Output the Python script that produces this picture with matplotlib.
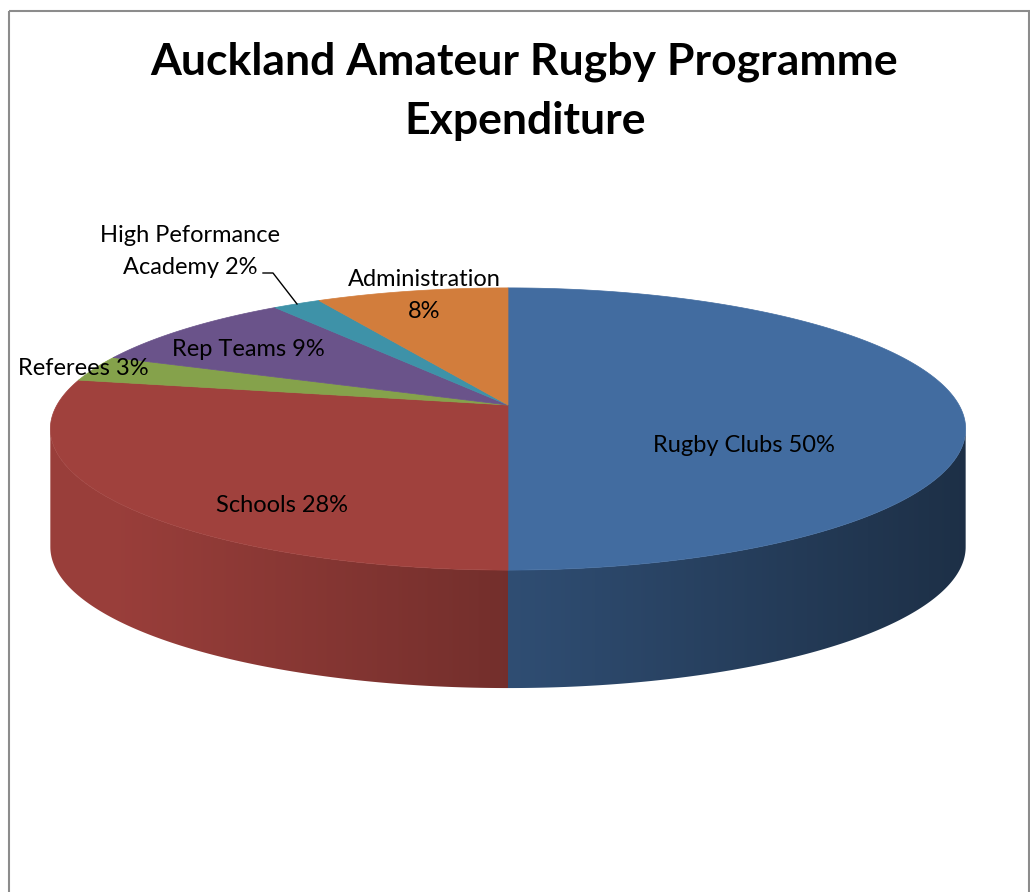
import numpy as np
import matplotlib
matplotlib.use("Agg")
import matplotlib.pyplot as plt
from matplotlib.patches import Polygon, Rectangle

plt.rcParams['font.family'] = ['Lato', 'DejaVu Sans']

# data
categories = ["Rugby Clubs", "Schools", "Referees", "Rep Teams",
              "High Peformance\nAcademy", "Administration\n"]
shares = [50, 28, 3, 9, 2, 8]
colors = ["#426CA0", "#A0413D", "#85A24B", "#6A538A", "#3E92A8", "#D27D3C"]

# label layout (pixel coords of first line baseline)
label_pos = [(744, 452), (282, 512), (83, 375), (248, 356), (190, 242), (424, 286)]

# 3d pie geometry (pixels)
CX, CY = 508, 405
R, A, K = 451, 137, 0.17
DEPTH = 118
# silhouette angle: the outer wall is visible between SIL and 360 - SIL
SIL = np.degrees(np.arccos(-K))


def proj(theta, drop=0.0):
    t = np.radians(theta)
    u, v = np.sin(t), np.cos(t)
    s = 1.0 / (1.0 + K * v)
    return CX + R * u * s, CY - A * v * s + drop


fig = plt.figure(figsize=(10.3, 8.92), dpi=100)
ax = fig.add_axes([0, 0, 1, 1])

ax.add_patch(Rectangle((9, 11), 1020, 900, fill=False, edgecolor='#8c8c8c', lw=1.5))

bounds = np.concatenate([[0], np.cumsum(shares)]) / sum(shares) * 360.0

# horizontal light gradient for the wall
gx = np.linspace(40, 980, 600)
bright = np.clip(0.72 - 0.00061 * (gx - CX), 0, 0.96)

for i in range(len(shares)):
    a = max(bounds[i], SIL)
    b = min(bounds[i + 1], 360 - SIL)
    if b <= a:
        continue
    th = np.linspace(a, b, 300)
    top = [proj(t) for t in th]
    bot = [proj(t, DEPTH) for t in th[::-1]]
    wall = Polygon(top + bot, closed=True, facecolor='none', edgecolor='none')
    ax.add_patch(wall)
    rgb = np.array(matplotlib.colors.to_rgb(colors[i]))
    img = np.clip(bright[None, :, None] * rgb[None, None, :], 0, 1)
    im = ax.imshow(img, extent=(40, 980, 720, 270), aspect='auto', interpolation='bilinear')
    im.set_clip_path(wall)

# top face
for i in range(len(shares)):
    th = np.linspace(bounds[i], bounds[i + 1], 200)
    pts = [(CX, CY)] + [proj(t) for t in th]
    ax.add_patch(Polygon(pts, closed=True, facecolor=colors[i], edgecolor=colors[i], lw=0.5))

# labels
for cat, val, (lx, ly) in zip(categories, shares, label_pos):
    lines = (cat + " " + str(val) + "%").split("\n")
    lines = [l.strip() for l in lines]
    for j, line in enumerate(lines):
        ax.text(lx, ly + j * 32, line, ha='center', va='baseline', fontsize=17, color='black')

# leader line for the small slice
ax.plot([263, 273, 297], [273, 273, 304], color='black', lw=1)

ax.text(524, 75, "Auckland Amateur Rugby Programme", ha='center', va='baseline',
        fontsize=32, fontweight='bold')
ax.text(525, 134, "Expenditure", ha='center', va='baseline', fontsize=32, fontweight='bold')

ax.set_xlim(0, 1030)
ax.set_ylim(892, 0)
ax.axis('off')

fig.savefig("out.png", dpi=100)
